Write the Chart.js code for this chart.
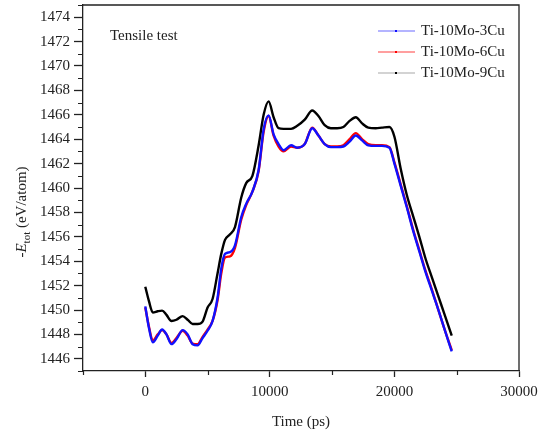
<!DOCTYPE html>
<html>
<head>
<meta charset="utf-8">
<script src="https://cdn.jsdelivr.net/npm/chart.js@4.4.1/dist/chart.umd.min.js"></script>
<style>
  html, body { margin: 0; padding: 0; background: #fff; }
  #box { width: 550px; height: 434px; }
</style>
</head>
<body>
<div id="box"><canvas id="energyChart"></canvas></div>
<script>
// Tensile test: total energy vs time
var timePs = [0, 300, 600, 1000, 1350, 1700, 2100, 2500, 3000, 3400, 3800, 4200, 4600, 5000, 5400, 5800,
  6100, 6400, 6800, 7200, 7700, 8100, 8600, 9100, 9500, 9900, 10300, 10700, 11100, 11700, 12200, 12800,
  13400, 13900, 14400, 14900, 15400, 15900, 16400, 16900, 17400, 17900, 18500, 19000, 19600, 20000,
  20500, 21000, 21500, 22000, 22500, 23000, 23500, 24000, 24600];

var cu3 = [1450.3, 1448.5, 1447.35, 1447.9, 1448.4, 1448.0, 1447.2, 1447.6, 1448.35, 1448.0, 1447.2, 1447.1,
  1447.7, 1448.3, 1449.1, 1451.0, 1453.4, 1454.6, 1454.75, 1455.3, 1457.6, 1458.7, 1459.7, 1461.5, 1464.8,
  1465.95, 1464.4, 1463.6, 1463.1, 1463.5, 1463.3, 1463.6, 1464.9, 1464.3, 1463.6, 1463.35, 1463.35, 1463.4,
  1463.8, 1464.3, 1463.9, 1463.5, 1463.45, 1463.45, 1463.3, 1462.0, 1460.2, 1458.4, 1456.5, 1454.8, 1453.1,
  1451.6, 1450.1, 1448.5, 1446.6];

var cu6 = [1450.2, 1448.6, 1447.5, 1448.0, 1448.35, 1448.0, 1447.3, 1447.7, 1448.3, 1447.9, 1447.25, 1447.2,
  1447.8, 1448.4, 1449.1, 1450.8, 1453.0, 1454.3, 1454.4, 1455.1, 1457.4, 1458.6, 1459.7, 1461.4, 1464.6,
  1465.9, 1464.3, 1463.4, 1463.0, 1463.4, 1463.3, 1463.6, 1464.95, 1464.3, 1463.6, 1463.4, 1463.4, 1463.5,
  1464.0, 1464.5, 1464.0, 1463.6, 1463.5, 1463.5, 1463.35, 1462.1, 1460.3, 1458.5, 1456.6, 1454.9, 1453.2,
  1451.7, 1450.1, 1448.5, 1446.7];

var cu9 = [1451.9, 1450.7, 1449.8, 1449.9, 1449.95, 1449.6, 1449.1, 1449.2, 1449.5, 1449.2, 1448.85, 1448.85,
  1449.05, 1450.2, 1450.9, 1453.0, 1454.6, 1455.75, 1456.2, 1456.8, 1459.2, 1460.4, 1461.0, 1463.5, 1466.0,
  1467.1, 1465.8, 1464.9, 1464.85, 1464.85, 1465.1, 1465.6, 1466.35, 1465.9, 1465.15, 1464.9, 1464.9, 1465.0,
  1465.5, 1465.8, 1465.3, 1464.95, 1464.9, 1464.95, 1465.0, 1464.2, 1461.6, 1459.4, 1457.7, 1456.0, 1454.2,
  1452.7, 1451.2, 1449.7, 1447.9];

var seriesNames = ['Ti-10Mo-3Cu', 'Ti-10Mo-6Cu', 'Ti-10Mo-9Cu'];
var xTicks = [0, 10000, 20000, 30000];
var xMinor = [-5000, 5000, 15000, 25000];
var yTicks = [1446, 1448, 1450, 1452, 1454, 1456, 1458, 1460, 1462, 1464, 1466, 1468, 1470, 1472, 1474];
var yMinor = [1445, 1447, 1449, 1451, 1453, 1455, 1457, 1459, 1461, 1463, 1465, 1467, 1469, 1471, 1473, 1475];

var FONT = 'Liberation Serif';
var INK = '#222';

function pts(values) {
  return timePs.map(function (t, i) { return { x: t, y: values[i] }; });
}

// minor ticks, frame, legend and texts
var extras = {
  id: 'extras',
  afterDraw: function (chart) {
    var ctx = chart.ctx;
    var a = chart.chartArea;
    var xs = chart.scales.x, ys = chart.scales.y;
    ctx.save();
    ctx.strokeStyle = INK;
    ctx.lineWidth = 1.3;
    ctx.beginPath();
    ctx.moveTo(a.left, a.top); ctx.lineTo(a.right, a.top); ctx.lineTo(a.right, a.bottom);
    ctx.stroke();
    ctx.lineWidth = 1.2;
    ctx.beginPath();
    yMinor.forEach(function (v) {
      var y = Math.round(ys.getPixelForValue(v)) + 0.5;
      ctx.moveTo(a.left - 5, y); ctx.lineTo(a.left, y);
    });
    xMinor.forEach(function (v) {
      var x = Math.round(xs.getPixelForValue(v)) + 0.5;
      ctx.moveTo(x, a.bottom); ctx.lineTo(x, a.bottom + 4);
    });
    ctx.stroke();

    // legend
    var legendLine = ['#6a6aff', '#ff4040', '#a8a8a8'];
    ctx.font = '15px "' + FONT + '"';
    ctx.textBaseline = 'middle';
    chart.data.datasets.forEach(function (ds, i) {
      var y = 31 + i * 21;
      ctx.strokeStyle = legendLine[i];
      ctx.lineWidth = 1.2;
      ctx.beginPath(); ctx.moveTo(378, y); ctx.lineTo(415, y); ctx.stroke();
      ctx.fillStyle = ds.borderColor;
      ctx.fillRect(395, y - 1, 2, 2);
      ctx.fillStyle = INK;
      ctx.fillText(ds.label, 421, y);
    });

    ctx.fillText('Tensile test', 110, 36);

    // x title
    ctx.textAlign = 'center';
    ctx.fillText('Time (ps)', (a.left + a.right) / 2, 422);

    // y title with subscript
    ctx.translate(21, 212);
    ctx.rotate(-Math.PI / 2);
    ctx.textAlign = 'left';
    ctx.textBaseline = 'alphabetic';
    var f1 = '15px "' + FONT + '"', fi = 'italic 15px "' + FONT + '"', fs = '11px "' + FONT + '"';
    ctx.font = f1; var w1 = ctx.measureText('-').width;
    ctx.font = fi; var w2 = ctx.measureText('E').width;
    ctx.font = fs; var w3 = ctx.measureText('tot').width;
    ctx.font = f1; var w4 = ctx.measureText(' (eV/atom)').width;
    var x0 = -(w1 + w2 + w3 + w4) / 2;
    ctx.font = f1; ctx.fillText('-', x0, 5);
    ctx.font = fi; ctx.fillText('E', x0 + w1, 5);
    ctx.font = fs; ctx.fillText('tot', x0 + w1 + w2, 9);
    ctx.font = f1; ctx.fillText(' (eV/atom)', x0 + w1 + w2 + w3, 5);
    ctx.restore();
  }
};

function plain(v) { return String(v); }

var energyCtx = document.getElementById('energyChart').getContext('2d');
var energyChart = new Chart(energyCtx, {
  type: 'scatter',
  data: {
    datasets: [{
      label: seriesNames[0],
      data: pts(cu3),
      borderColor: '#1010ff',
      backgroundColor: '#1010ff'
    }, {
      label: seriesNames[1],
      data: pts(cu6),
      borderColor: '#ff0000',
      backgroundColor: '#ff0000'
    }, {
      label: seriesNames[2],
      data: pts(cu9),
      borderColor: '#000000',
      backgroundColor: '#000000'
    }]
  },
  options: {
    responsive: true,
    maintainAspectRatio: false,
    animation: false,
    showLine: true,
    layout: { padding: { top: 5, right: 31, left: 0, bottom: 0 } },
    elements: {
      point: { radius: 0 },
      line: { borderWidth: 2.4, cubicInterpolationMode: 'monotone' }
    },
    plugins: {
      legend: { display: false },
      tooltip: { enabled: false }
    },
    scales: {
      x: {
        type: 'linear',
        min: -5000,
        max: 30000,
        afterBuildTicks: function (s) { s.ticks = xTicks.map(function (v) { return { value: v }; }); },
        afterFit: function (s) { s.height = 63; s.paddingLeft = 0; s.paddingRight = 0; },
        grid: { drawOnChartArea: false, drawTicks: true, tickLength: 6, tickWidth: 1.3, tickColor: INK },
        border: { display: true, color: INK, width: 1.3 },
        ticks: { color: INK, padding: 6, maxRotation: 0, callback: plain, font: { family: FONT, size: 15 } }
      },
      y: {
        type: 'linear',
        min: 1445,
        max: 1475,
        afterBuildTicks: function (s) { s.ticks = yTicks.map(function (v) { return { value: v }; }); },
        afterFit: function (s) { s.width = 83; s.paddingTop = 0; s.paddingBottom = 0; },
        grid: { drawOnChartArea: false, drawTicks: true, tickLength: 9, tickWidth: 1.3, tickColor: INK },
        border: { display: true, color: INK, width: 1.3 },
        ticks: { color: INK, padding: 4, callback: plain, font: { family: FONT, size: 15 } }
      }
    }
  },
  plugins: [extras]
});
</script>
</body>
</html>
